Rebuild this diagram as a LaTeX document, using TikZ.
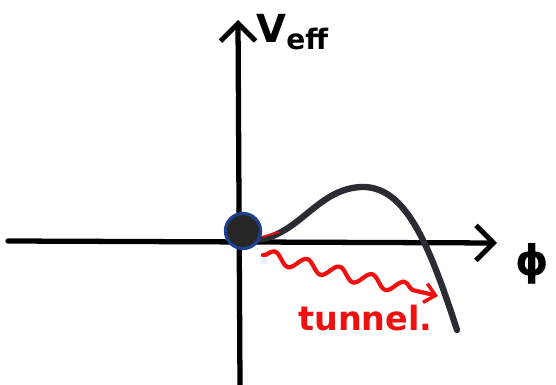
\documentclass[tikz,border=0pt]{standalone}
\usepackage{fontspec}
\setmainfont{DejaVu Sans}
\usetikzlibrary{arrows.meta,decorations.pathmorphing}
\definecolor{curvegray}{HTML}{2B2B33}
\definecolor{ballblue}{HTML}{1F3F8F}
\definecolor{penred}{HTML}{F01010}
\tikzset{
  axis/.style={line width=3pt, line cap=round, -{Straight Barb[length=10pt,width=20pt,line width=2.8pt]}},
  potential/.style={line width=3.6pt, curvegray, line cap=round},
  wavy/.style={penred, line width=2.4pt, line cap=round, decorate,
    decoration={snake, amplitude=3.5pt, segment length=19pt, post length=8pt},
    -{Straight Barb[length=6pt,width=11pt,line width=2pt]}},
  lbl/.style={inner sep=0pt, font=\bfseries}
}
\begin{document}
\begin{tikzpicture}[x=0.02cm,y=-0.02cm]
\useasboundingbox (0,0) rectangle (556,385);
% axes
\coordinate (yb) at (240,385);
\coordinate (yt) at (238,20);
\coordinate (xl) at (8,241);
\coordinate (xr) at (497,243);
\draw[axis] (xl) -- (xr);
\draw[axis] (yb) -- (yt);
% potential curve
\coordinate (c0) at (256,240);
\coordinate (cpk) at (365,187);
\coordinate (c1) at (457,330);
\draw[potential] (c0) .. controls (300,236) and (318,186) .. (cpk)
  .. controls (405,189) and (428,240) .. (c1);
% ball
\node[circle, fill=black!85, draw=ballblue, line width=1.8pt, minimum size=20pt, inner sep=0pt] (ball) at (243,231) {};
% small red stroke
\coordinate (r0) at (262,237);
\coordinate (r1) at (279,232);
\draw[penred, line width=1pt] (r0) -- (r1);
% tunnelling arrow
\coordinate (w0) at (263,255);
\coordinate (w1) at (438,296);
\draw[wavy] (w0) -- (w1);
% labels
\node[lbl, anchor=west, font=\bfseries\fontsize{22}{24}\selectfont] (veff) at (256,32) {V\raisebox{-4pt}{\fontsize{16}{18}\selectfont eff}};
\node[lbl, font=\bfseries\fontsize{24}{26}\selectfont] (phi) at (532,264) {ϕ};
\node[lbl, penred, anchor=west, font=\bfseries\fontsize{19}{21}\selectfont] (tun) at (298,318) {tunnel.};
\end{tikzpicture}
\end{document}
